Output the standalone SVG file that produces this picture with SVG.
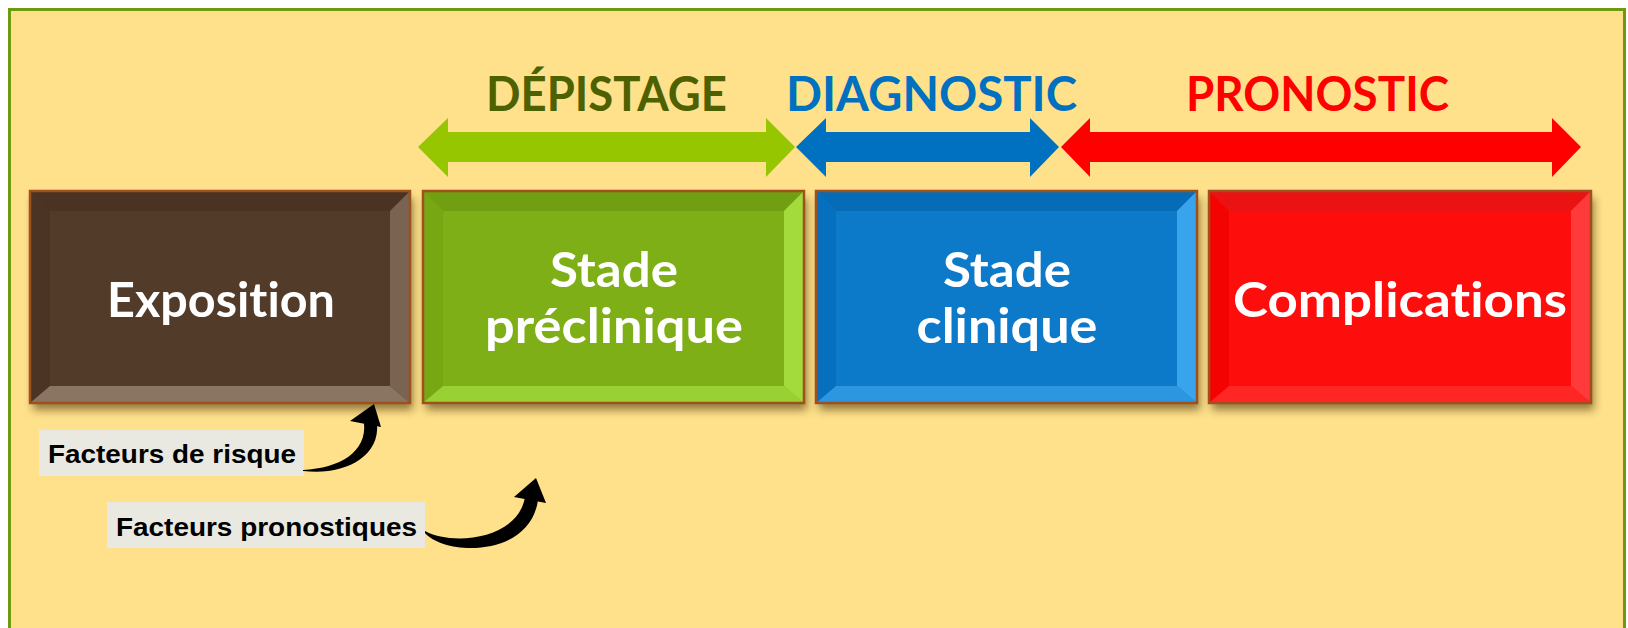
<svg xmlns="http://www.w3.org/2000/svg" width="1628" height="628" viewBox="0 0 1628 628">
<defs>
<style>
.title{font-family:Lato,"Liberation Sans","DejaVu Sans",sans-serif;font-weight:700;font-size:47px;font-variant-ligatures:none;}
.boxtxt{font-family:Lato,"Liberation Sans","DejaVu Sans",sans-serif;font-weight:700;font-size:48px;fill:#ffffff;text-anchor:middle;font-variant-ligatures:none;}
.lbl{font-family:"Liberation Sans",Arial,sans-serif;font-weight:700;font-size:26px;fill:#000000;}
.lblbg{fill:#E9E9E1;}
.border{fill:none;stroke:#A0501C;stroke-width:2.5;}
</style>
<filter id="sh" x="-10%" y="-10%" width="120%" height="130%">
<feDropShadow dx="3" dy="7" stdDeviation="4" flood-color="#3a2a00" flood-opacity="0.55"/>
</filter>
<linearGradient id="gR" x1="0" y1="0" x2="1" y2="0">
<stop offset="0" stop-color="#ffffff" stop-opacity="0"/>
<stop offset="1" stop-color="#ffffff" stop-opacity="0.12"/>
</linearGradient>
<linearGradient id="gB" x1="0" y1="0" x2="0" y2="1">
<stop offset="0" stop-color="#ffffff" stop-opacity="0"/>
<stop offset="1" stop-color="#ffffff" stop-opacity="0.12"/>
</linearGradient>
</defs>
<rect x="0" y="0" width="1628" height="628" fill="#ffffff"/>
<rect x="9.5" y="9.5" width="1615" height="640" fill="#FEE18A" stroke="#6F9A10" stroke-width="3"/>

<g id="ranges">
<polygon fill="#95C600" points="418,147 448,118 448,132 766,132 766,118 795,147 766,177 766,162 448,162 448,177"/>
<polygon fill="#0070C0" points="796,147 826,118 826,132 1030,132 1030,118 1059,147 1030,177 1030,162 826,162 826,177"/>
<polygon fill="#FF0000" points="1061,147 1090,118 1090,132 1552,132 1552,118 1581,147 1552,177 1552,162 1090,162 1090,177"/>
<text class="title" x="486" y="111" fill="#4E6100" textLength="241" lengthAdjust="spacingAndGlyphs">DÉPISTAGE</text>
<text class="title" x="786" y="111" fill="#0070C0" textLength="291" lengthAdjust="spacingAndGlyphs">DIAGNOSTIC</text>
<text class="title" x="1186" y="111" fill="#FF0000" textLength="263" lengthAdjust="spacingAndGlyphs">PRONOSTIC</text>
</g>

<g id="node-exposition">
<g filter="url(#sh)">
<rect x="30" y="191" width="380" height="212" fill="#533B2A"/>
</g>
<polygon fill="#4A3322" points="30,191 410,191 390,211 50,211"/>
<polygon fill="#4B3423" points="30,191 50,211 50,386 30,403"/>
<polygon fill="#7A6350" points="410,191 410,403 390,386 390,211"/>
<polygon fill="#8A7462" points="30,403 410,403 390,386 50,386"/>
<rect x="30" y="191" width="380" height="212" class="border"/>
<text class="boxtxt" x="221" y="317" textLength="228" lengthAdjust="spacingAndGlyphs">Exposition</text>
</g>

<g id="node-preclinique">
<g filter="url(#sh)">
<rect x="423" y="191" width="381" height="212" fill="#7FAF17"/>
</g>
<polygon fill="#70A011" points="423,191 804,191 784,211 443,211"/>
<polygon fill="#77A713" points="423,191 443,211 443,386 423,403"/>
<polygon fill="#A3DA3C" points="804,191 804,403 784,386 784,211"/>
<polygon fill="#99D034" points="423,403 804,403 784,386 443,386"/>
<rect x="423" y="191" width="381" height="212" class="border"/>
<text class="boxtxt" x="614" y="287" textLength="128" lengthAdjust="spacingAndGlyphs">Stade</text>
<text class="boxtxt" x="614" y="343" textLength="258" lengthAdjust="spacingAndGlyphs">préclinique</text>
</g>

<g id="node-clinique">
<g filter="url(#sh)">
<rect x="816" y="191" width="381" height="212" fill="#0779C9"/>
</g>
<polygon fill="#066CB8" points="816,191 1197,191 1177,211 836,211"/>
<polygon fill="#066FBE" points="816,191 836,211 836,386 816,403"/>
<polygon fill="#38A4EC" points="1197,191 1197,403 1177,386 1177,211"/>
<polygon fill="#2C96E0" points="816,403 1197,403 1177,386 836,386"/>
<rect x="816" y="191" width="381" height="212" class="border"/>
<text class="boxtxt" x="1007" y="287" textLength="128" lengthAdjust="spacingAndGlyphs">Stade</text>
<text class="boxtxt" x="1007" y="343" textLength="181" lengthAdjust="spacingAndGlyphs">clinique</text>
</g>

<g id="node-complications">
<g filter="url(#sh)">
<rect x="1209" y="191" width="382" height="212" fill="#FE0707"/>
</g>
<polygon fill="#EA1212" points="1209,191 1591,191 1571,211 1229,211"/>
<polygon fill="#F40303" points="1209,191 1229,211 1229,386 1209,403"/>
<polygon fill="#FF3A3A" points="1591,191 1591,403 1571,386 1571,211"/>
<polygon fill="#FF2626" points="1209,403 1591,403 1571,386 1229,386"/>
<rect x="1209" y="191" width="382" height="212" class="border"/>
<text class="boxtxt" x="1400" y="317" textLength="334" lengthAdjust="spacingAndGlyphs">Complications</text>
</g>

<g id="node-facteurs-risque">
<rect class="lblbg" x="39" y="430" width="265" height="46"/>
<text class="lbl" x="48" y="463" textLength="248" lengthAdjust="spacingAndGlyphs">Facteurs de risque</text>
</g>

<g id="node-facteurs-pronostiques">
<rect class="lblbg" x="107" y="502" width="318" height="46"/>
<text class="lbl" x="116" y="536" textLength="301" lengthAdjust="spacingAndGlyphs">Facteurs pronostiques</text>
</g>

<g id="connectors" fill="#000000">
<path d="M303,471 C342,476 380,458 377,424 L364,423 C367,452 340,468 303,470 Z"/>
<polygon points="350,421 374,404 381,427"/>
<path d="M425,533 C445,556 530,558 538,500 L525,497 C518,540 452,546 425,531 Z"/>
<polygon points="514,497 536,478 546,503"/>
</g>
</svg>
